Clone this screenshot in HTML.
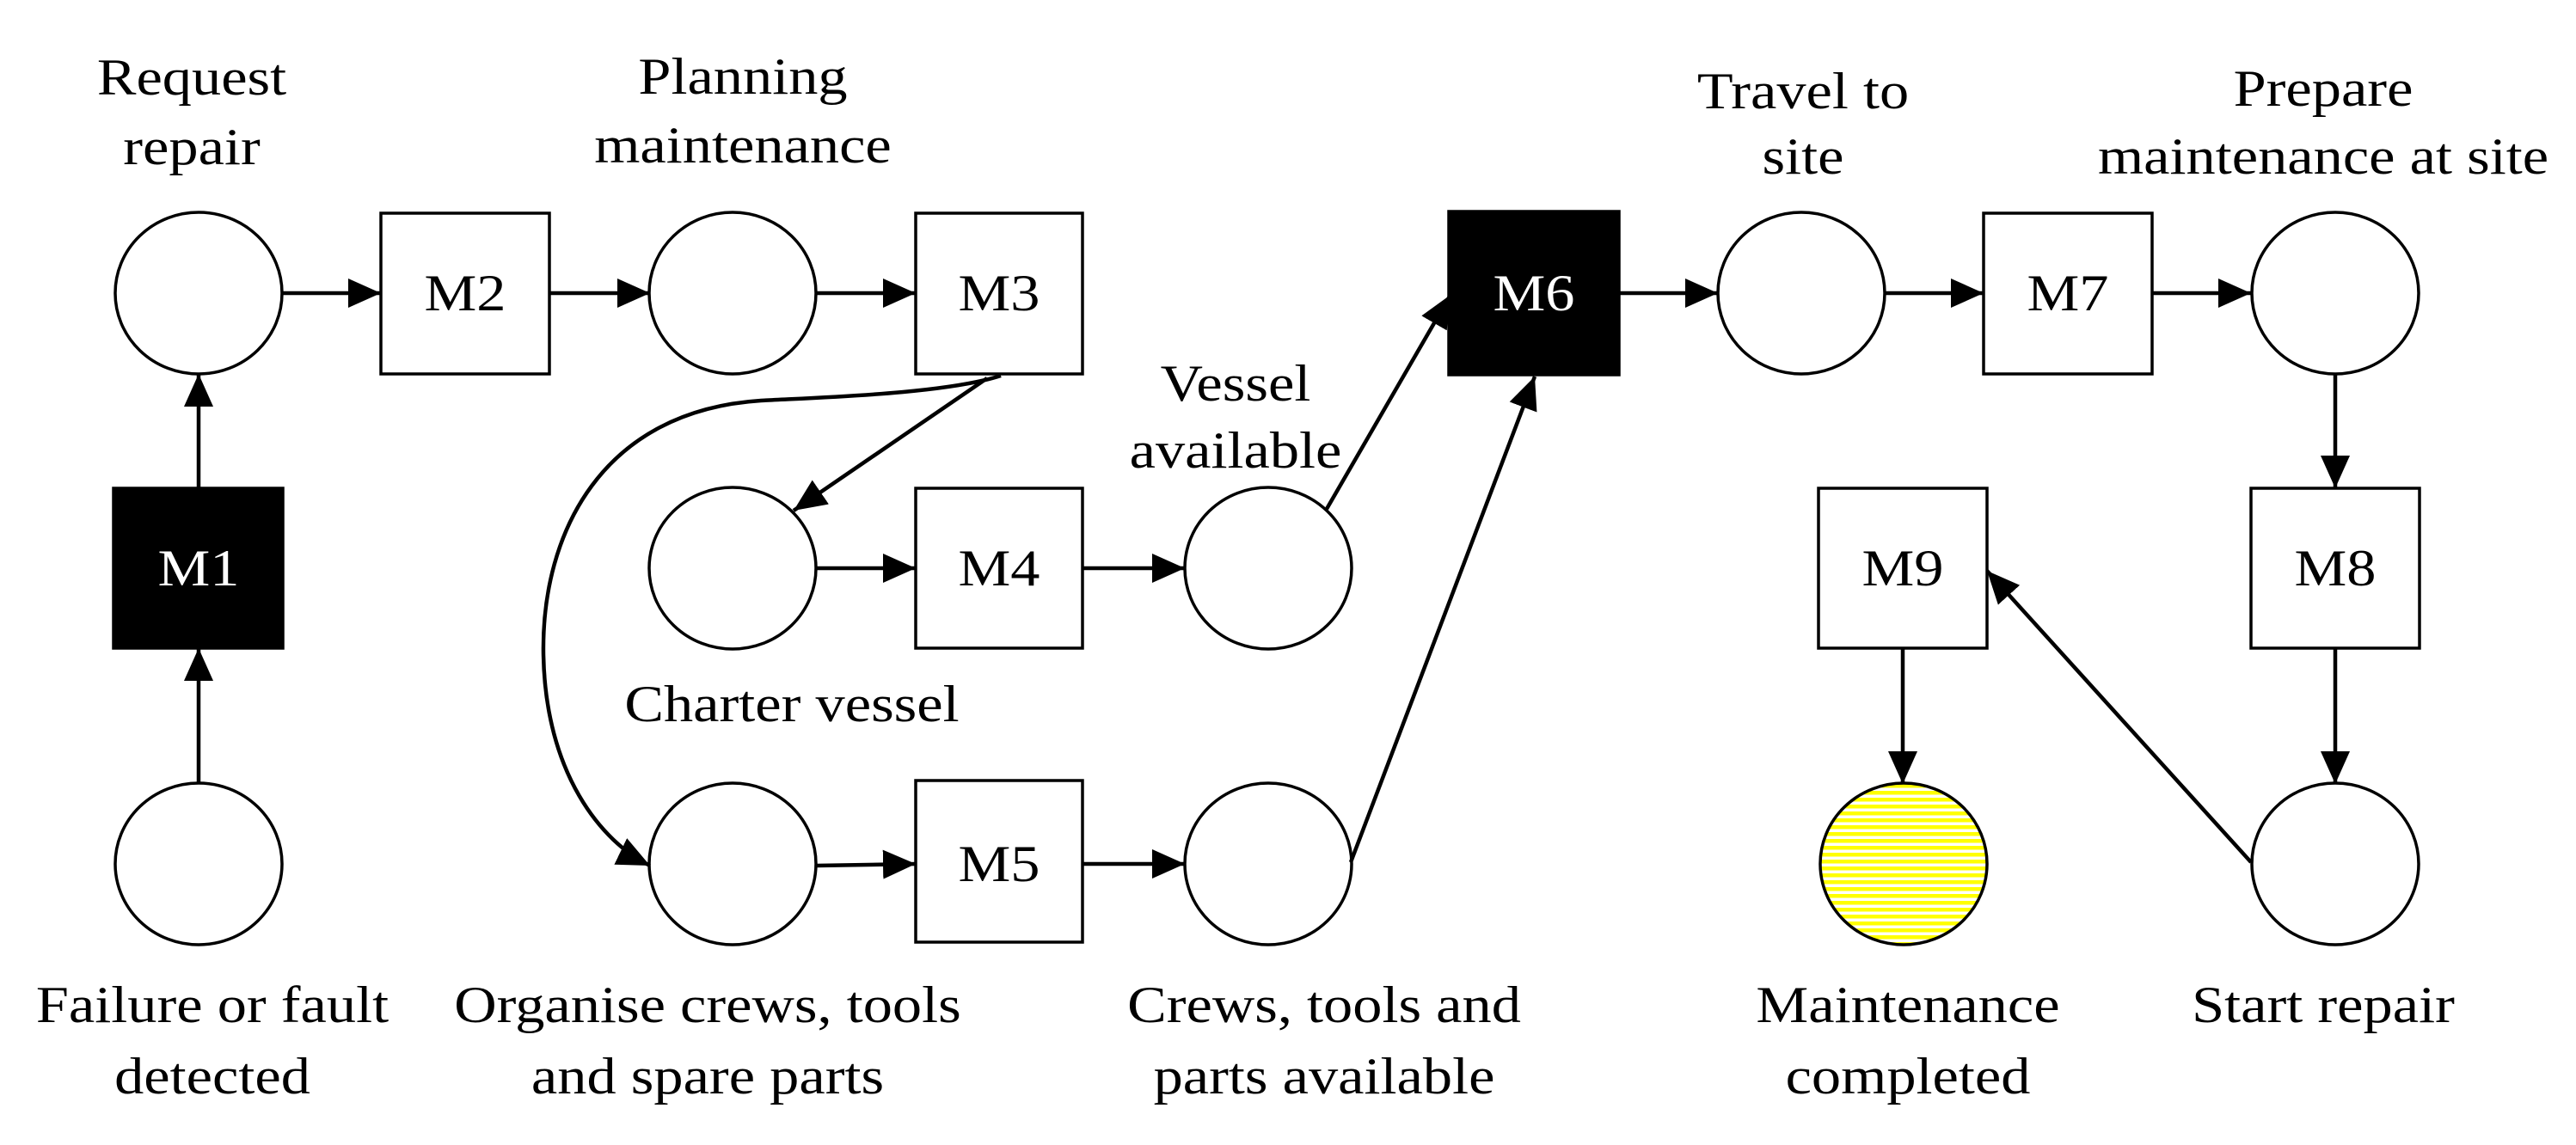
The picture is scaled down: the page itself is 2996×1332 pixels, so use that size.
<!DOCTYPE html>
<html><head><meta charset="utf-8"><style>html,body{margin:0;padding:0;background:#fff}svg{display:block}</style></head><body>
<svg width="2996" height="1332" viewBox="0 0 2996 1332" xmlns="http://www.w3.org/2000/svg">
<defs>
<marker id="a" markerUnits="userSpaceOnUse" markerWidth="40" markerHeight="36" refX="38" refY="17" orient="auto">
<path d="M0,0 L38,17 L0,34 Z" fill="#000"/></marker>
<pattern id="st" patternUnits="userSpaceOnUse" width="10" height="8"><rect width="10" height="8" fill="#fff"/><rect width="10" height="4.5" fill="#ffff00"/></pattern>
</defs>
<g fill="#fff" stroke="#000" stroke-width="3.5">
<ellipse cx="231" cy="341" rx="97" ry="94"/>
<ellipse cx="852" cy="341" rx="97" ry="94"/>
<ellipse cx="2095" cy="341" rx="97" ry="94"/>
<ellipse cx="2716" cy="341" rx="97" ry="94"/>
<ellipse cx="852" cy="661" rx="97" ry="94"/>
<ellipse cx="1475" cy="661" rx="97" ry="94"/>
<ellipse cx="231" cy="1005" rx="97" ry="94"/>
<ellipse cx="852" cy="1005" rx="97" ry="94"/>
<ellipse cx="1475" cy="1005" rx="97" ry="94"/>
<ellipse cx="2214" cy="1005" rx="97" ry="94" fill="url(#st)"/>
<ellipse cx="2716" cy="1005" rx="97" ry="94"/>
<rect x="443" y="248" width="196" height="187"/>
<rect x="1065" y="248" width="194" height="187"/>
<rect x="2307" y="248" width="196" height="187"/>
<rect x="1065" y="568" width="194" height="186"/>
<rect x="2115" y="568" width="196" height="186"/>
<rect x="2618" y="568" width="196" height="186"/>
<rect x="1065" y="908" width="194" height="188"/>
<rect x="132" y="568" width="197" height="186" fill="#000"/>
<rect x="1685" y="246" width="198" height="190" fill="#000"/>
</g>
<g stroke="#000" stroke-width="4.5" fill="none" marker-end="url(#a)">
<line x1="231" y1="912" x2="231" y2="754"/>
<line x1="231" y1="568" x2="231" y2="435"/>
<line x1="327" y1="341" x2="443" y2="341"/>
<line x1="639" y1="341" x2="756" y2="341"/>
<line x1="949" y1="341" x2="1065" y2="341"/>
<line x1="1883" y1="341" x2="1998" y2="341"/>
<line x1="2192" y1="341" x2="2307" y2="341"/>
<line x1="2503" y1="341" x2="2618" y2="341"/>
<line x1="949" y1="661" x2="1065" y2="661"/>
<line x1="1259" y1="661" x2="1378" y2="661"/>
<line x1="949" y1="1007" x2="1065" y2="1005"/>
<line x1="1259" y1="1005" x2="1378" y2="1005"/>
<line x1="1148" y1="440" x2="923" y2="594"/>
<path d="M1164,437 C1100,458 960,462 885,466 C700,478 630,620 632,760 C634,900 700,980 756,1007"/>
<line x1="1543" y1="592" x2="1687" y2="343"/>
<line x1="1571" y1="1003" x2="1785" y2="438"/>
<line x1="2716" y1="435" x2="2716" y2="568"/>
<line x1="2716" y1="754" x2="2716" y2="912"/>
<line x1="2213" y1="754" x2="2213" y2="912"/>
<line x1="2618" y1="1003" x2="2311" y2="664"/>
</g>
<g font-family="Liberation Serif, serif" font-size="60" text-anchor="middle">
<g fill="#fff">
<text transform="translate(231,681) scale(1.14,1)">M1</text>
<text transform="translate(1784,361) scale(1.14,1)">M6</text>
</g>
<g fill="#000">
<text transform="translate(541,361) scale(1.14,1)">M2</text>
<text transform="translate(1162,361) scale(1.14,1)">M3</text>
<text transform="translate(2405,361) scale(1.14,1)">M7</text>
<text transform="translate(1162,681) scale(1.14,1)">M4</text>
<text transform="translate(2213,681) scale(1.14,1)">M9</text>
<text transform="translate(2716,681) scale(1.14,1)">M8</text>
<text transform="translate(1162,1025) scale(1.14,1)">M5</text>
<text transform="translate(223,110) scale(1.14,1)">Request</text>
<text transform="translate(223,191) scale(1.14,1)">repair</text>
<text transform="translate(864,109) scale(1.14,1)">Planning</text>
<text transform="translate(864,189) scale(1.14,1)">maintenance</text>
<text transform="translate(2097,126) scale(1.14,1)">Travel to</text>
<text transform="translate(2097,202) scale(1.14,1)">site</text>
<text transform="translate(2702,123) scale(1.14,1)">Prepare</text>
<text transform="translate(2702,202) scale(1.14,1)">maintenance at site</text>
<text transform="translate(1437,466) scale(1.14,1)">Vessel</text>
<text transform="translate(1437,544) scale(1.14,1)">available</text>
<text transform="translate(921,839) scale(1.14,1)">Charter vessel</text>
<text transform="translate(247,1189) scale(1.14,1)">Failure or fault</text>
<text transform="translate(247,1272) scale(1.14,1)">detected</text>
<text transform="translate(823,1189) scale(1.14,1)">Organise crews, tools</text>
<text transform="translate(823,1272) scale(1.14,1)">and spare parts</text>
<text transform="translate(1540,1189) scale(1.14,1)">Crews, tools and</text>
<text transform="translate(1540,1272) scale(1.14,1)">parts available</text>
<text transform="translate(2219,1189) scale(1.14,1)">Maintenance</text>
<text transform="translate(2219,1272) scale(1.14,1)">completed</text>
<text transform="translate(2702,1189) scale(1.14,1)">Start repair</text>
</g></g>
</svg>
</body></html>
